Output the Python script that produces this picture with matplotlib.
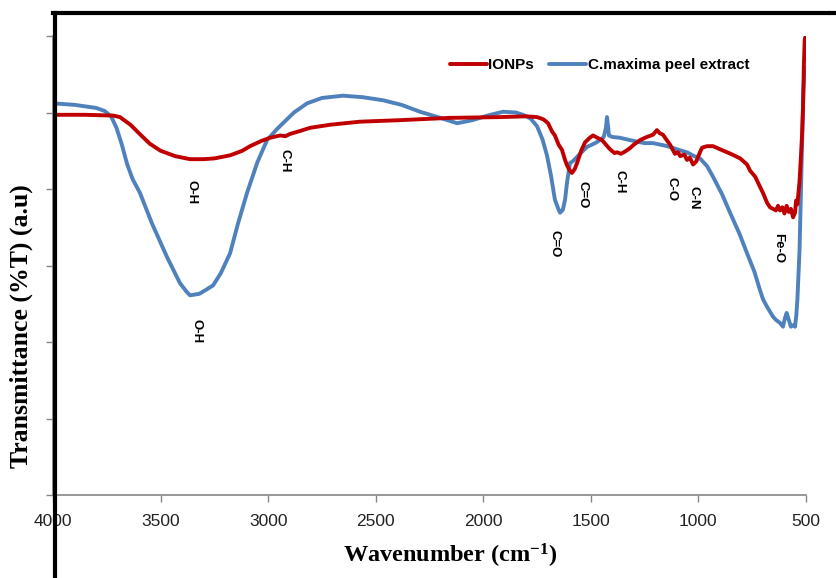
"""FTIR spectra of IONPs and C. maxima peel extract."""

import matplotlib
matplotlib.use("Agg")
import matplotlib.pyplot as plt
from matplotlib.lines import Line2D

plt.rcParams["mathtext.fontset"] = "custom"
plt.rcParams["mathtext.rm"] = "Liberation Serif:bold"
plt.rcParams["mathtext.default"] = "rm"

# IONPs spectrum (wavenumber, transmittance a.u.)
ionp_wn = [4000, 3850, 3720, 3689, 3640, 3590, 3549, 3500, 3433, 3363, 3300, 3250,
           3177, 3120, 3084, 3030, 2991, 2944, 2920, 2898, 2850, 2805, 2712, 2573,
           2387, 2155, 1922, 1800, 1750, 1720, 1699, 1680, 1667, 1650, 1634, 1620,
           1611, 1600, 1588, 1575, 1564, 1545, 1527, 1505, 1490, 1470, 1448, 1430,
           1411, 1390, 1378, 1360, 1341, 1320, 1300, 1271, 1240, 1211, 1193, 1180,
           1165, 1150, 1132, 1115, 1109, 1095, 1085, 1065, 1053, 1040, 1025, 1010,
           1000, 993, 983, 960, 932, 900, 850, 806, 774, 760, 736, 714, 700, 681,
           667, 653, 640, 630, 621, 610, 600, 590, 580, 570, 560, 551, 546, 540,
           530, 524, 518, 514, 510, 506, 504]
ionp_t = [49.7, 49.7, 49.6, 49.4, 48.4, 47.0, 45.9, 45.0, 44.3, 43.9, 43.9, 44.0,
          44.4, 45.0, 45.6, 46.3, 46.7, 47.0, 46.9, 47.2, 47.6, 48.0, 48.4, 48.8,
          49.0, 49.3, 49.4, 49.5, 49.4, 49.1, 48.6, 47.5, 47.0, 45.8, 45.1, 43.8,
          43.1, 42.5, 42.1, 42.6, 43.4, 45.0, 46.1, 46.7, 47.0, 46.7, 46.4, 45.8,
          45.2, 44.7, 44.8, 44.6, 44.9, 45.3, 45.8, 46.4, 46.8, 47.1, 47.7, 47.3,
          47.1, 46.5, 45.8, 44.9, 44.6, 44.8, 44.3, 44.5, 43.8, 44.1, 43.2, 43.6,
          44.3, 44.8, 45.4, 45.6, 45.6, 45.2, 44.6, 44.0, 43.2, 42.4, 41.6, 40.3,
          39.5, 38.2, 37.6, 37.4, 37.2, 37.8, 37.2, 37.6, 36.8, 37.8, 37.0, 37.4,
          36.3, 36.9, 38.5, 38.0, 41.0, 44.0, 47.3, 50.5, 56.0, 59.5, 59.8]

# C. maxima peel extract spectrum
peel_wn = [4000, 3900, 3800, 3760, 3730, 3705, 3680, 3656, 3630, 3596, 3540, 3470,
           3410, 3380, 3363, 3320, 3290, 3256, 3220, 3177, 3140, 3098, 3050, 3005,
           2960, 2931, 2880, 2819, 2750, 2652, 2560, 2466, 2380, 2294, 2200, 2122,
           2050, 1980, 1908, 1850, 1815, 1780, 1750, 1725, 1704, 1685, 1667, 1650,
           1643, 1630, 1620, 1610, 1597, 1585, 1564, 1518, 1480, 1457, 1440, 1430,
           1425, 1420, 1416, 1400, 1365, 1320, 1286, 1250, 1211, 1160, 1132, 1090,
           1053, 1020, 993, 960, 932, 890, 853, 810, 774, 740, 714, 700, 681, 653,
           640, 621, 607, 598, 590, 580, 570, 560, 551, 545, 540, 530, 520, 512, 506]
peel_t = [51.2, 51.0, 50.6, 50.2, 49.5, 48.0, 45.8, 43.3, 41.3, 39.5, 35.5, 31.1,
          27.7, 26.6, 26.1, 26.3, 26.8, 27.4, 29.0, 31.6, 35.5, 39.5, 43.5, 46.4,
          47.8, 48.6, 50.0, 51.2, 51.9, 52.2, 52.0, 51.6, 51.0, 50.1, 49.3, 48.6,
          49.0, 49.6, 50.1, 50.0, 49.7, 49.2, 48.2, 46.5, 44.4, 41.7, 38.6, 37.3,
          36.9, 37.3, 38.6, 41.0, 43.4, 43.6, 44.2, 45.5, 46.0, 46.4, 46.8, 48.0,
          49.4, 48.2, 47.0, 46.8, 46.7, 46.4, 46.2, 46.0, 46.0, 45.7, 45.5, 45.1,
          44.8, 44.3, 44.0, 43.0, 41.6, 39.3, 36.9, 34.2, 31.6, 29.2, 26.8, 25.6,
          24.6, 23.3, 22.9, 22.5, 22.0, 23.1, 23.8, 22.9, 22.0, 22.2, 22.0, 23.5,
          25.5, 32.0, 43.8, 52.9, 55.9]

# band assignments: (label, wavenumber, transmittance)
band_labels = ["O-H", "O-H", "C-H", "C=O", "C=O", "C-H", "C-O", "C-N", "Fe-O"]
band_wn = [3354, 3335, 2922, 1667, 1541, 1369, 1123, 1025, 630]
band_t = [39.6, 21.4, 43.7, 32.9, 39.3, 41.0, 40.0, 38.9, 32.3]

x_ticks = [4000, 3500, 3000, 2500, 2000, 1500, 1000, 500]

RED = "#C00000"
BLUE = "#4F81BD"
GRAY = "#868686"

fig = plt.figure(figsize=(8.36, 5.78), dpi=100)
ax = fig.add_axes([0.0634, 0.1436, 0.9007, 0.7941])

ax.plot(ionp_wn, ionp_t, color=RED, linewidth=2.8, label="IONPs",
        solid_joinstyle="round", solid_capstyle="round", zorder=3)
ax.plot(peel_wn, peel_t, color=BLUE, linewidth=2.8, label="C.maxima peel extract",
        solid_joinstyle="round", solid_capstyle="round", zorder=2)

for lab, w, t in zip(band_labels, band_wn, band_t):
    ax.text(w, t, lab, rotation=270, ha="center", va="center",
            fontsize=9.5, fontweight="bold", family="Liberation Sans")

ax.set_xlim(4000, 500)
ax.set_ylim(0, 60)
ax.set_xticks(x_ticks)
ax.set_xticklabels([str(v) for v in x_ticks])
ax.set_yticks(range(0, 61, 10))
ax.set_yticklabels([])
ax.tick_params(axis="both", direction="out", length=5, width=1, color=GRAY,
               labelsize=12.5, labelcolor="#222222", pad=9)
for lbl in ax.get_xticklabels():
    lbl.set_family("Liberation Sans")

for side in ["top", "right"]:
    ax.spines[side].set_visible(False)
for side in ["left", "bottom"]:
    ax.spines[side].set_color(GRAY)
    ax.spines[side].set_linewidth(1.2)

ax.set_xlabel("Wavenumber (cm$^{-1}$)", fontsize=17.5, fontweight="bold",
              family="Liberation Serif")
ax.xaxis.set_label_coords(0.527, -0.103)
fig.text(0.026, 0.436, "Transmittance (%T) (a.u)", rotation=90, ha="center",
         va="center", fontsize=18.5, fontweight="bold", family="Liberation Serif")

leg = ax.legend(loc="center", bbox_to_anchor=(0.726, 0.937), ncol=2, frameon=False,
                handlelength=2.4, handletextpad=0.1, columnspacing=1.0,
                prop={"family": "Liberation Sans", "weight": "bold", "size": 11})

# heavy black frame lines of the original figure
fig.add_artist(Line2D([0.0658, 0.0658], [0.9775, 0.057], color="black", linewidth=3))
fig.add_artist(Line2D([0.0658, 0.0658], [0.050, 0.0], color="black", linewidth=3))
fig.add_artist(Line2D([0.0634, 0.991], [0.9775, 0.9775], color="black", linewidth=3))
fig.add_artist(Line2D([0.994, 1.0], [0.9775, 0.9775], color="black", linewidth=3))

fig.savefig("out.png", dpi=100)
plt.close(fig)
